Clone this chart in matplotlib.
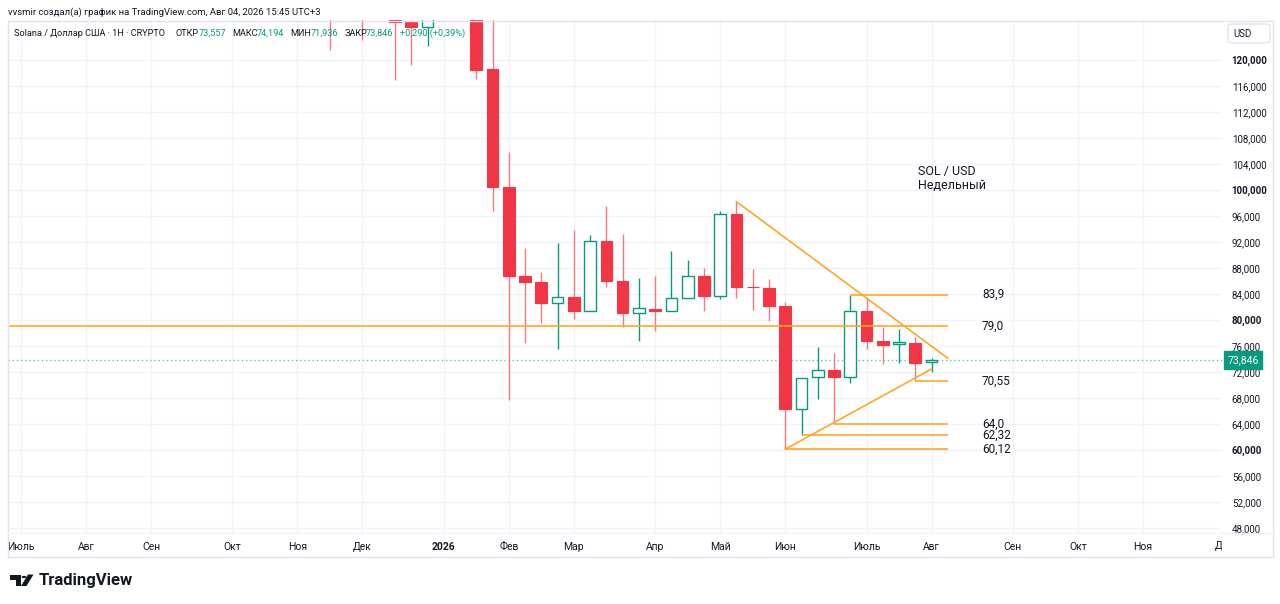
import numpy as np
import pandas as pd
import matplotlib
matplotlib.use("Agg")
import matplotlib.pyplot as plt
from matplotlib.patches import Rectangle, FancyBboxPatch, Polygon, Circle
from matplotlib.transforms import blended_transform_factory, Bbox, TransformedBbox

plt.rcParams['font.family'] = ['Roboto', 'DejaVu Sans']

# --- данные: недельные свечи SOL/USD (первая свеча - неделя 17.11.2025) ---
FIRST_WEEK = "2025-11-17"
OPEN = [134, 128, 131, 127, 130, 125.8, 125.0, 128, 133, 135,
        118.6, 100.46, 86.77, 85.9, 82.6, 83.5, 81.38, 92.2, 86.05, 81.13,
        81.74, 81.38, 83.33, 86.77, 83.74, 96.31, 85.13, 84.97, 82.15, 66.31,
        71.18, 72.26, 71.18, 81.38, 76.72, 76.31, 76.51, 73.557]
HIGH = [137, 133, 134, 132, 133, 126.1, 130, 135, 138, 136,
        127, 105.8, 91.0, 87.4, 91.9, 93.85, 93.03, 97.54, 93.18, 86.41,
        86.77, 90.54, 89.23, 87.95, 96.72, 98.2, 87.8, 86.26, 82.82, 71.13,
        75.9, 74.87, 83.9, 83.44, 78.87, 78.67, 77.33, 74.194]
LOW = [121.5, 126.5, 123.1, 126.5, 116.9, 119.2, 122.2, 126.8, 127.5, 117.0,
       96.8, 67.7, 76.5, 79.6, 75.6, 80.15, 81.38, 85.13, 78.97, 76.72,
       78.36, 81.38, 83.33, 81.38, 83.23, 83.44, 81.49, 79.9, 60.12, 62.32,
       67.8, 64.0, 70.26, 75.54, 73.28, 73.44, 70.55, 71.936]
CLOSE = [128, 131, 127, 130, 125.8, 125.0, 128, 133, 135, 118.5,
         100.46, 86.77, 85.9, 82.6, 83.5, 81.38, 92.2, 86.05, 81.13, 81.8,
         81.38, 83.33, 86.77, 83.74, 96.31, 85.13, 85.0, 82.15, 66.31, 71.13,
         72.26, 71.18, 81.38, 76.77, 76.2, 76.56, 73.44, 73.846]
LAST_PRICE = 73.846

# уровни (горизонтальные линии) и номер свечи, откуда они начинаются
LEVELS = [83.9, 79.0, 70.55, 64.0, 62.32, 60.12]
LEVEL_LABELS = ["83,9", "79,0", "70,55", "64,0", "62,32", "60,12"]
LEVEL_FROM = [32, None, 36, 31, 29, 28]
LEVEL_TO = 38

# трендовые линии треугольника: (свеча, цена)
TREND_DOWN = [(25, 98.2), (38, 74.1)]
TREND_UP = [(28, 60.12), (37, 72.46)]

PRICE_TICKS = list(range(48, 121, 4))
MONTHS_RU = ["Янв", "Фев", "Мар", "Апр", "Май", "Июн",
             "Июль", "Авг", "Сен", "Окт", "Ноя", "Дек"]

UP = "#089981"
DOWN = "#F23645"
DOWN_WICK = "#F7777F"
ORANGE = "#FFA726"
TEXT = "#131722"
GRID = "#F0F3FA"
BORDER = "#E0E3EB"

W, H = 1280, 604
fig = plt.figure(figsize=(12.8, 6.04), dpi=100)
fig.patch.set_facecolor("white")


def fx(x):
    return x / W


def fy(y):
    return 1 - y / H


ax = fig.add_axes([fx(8), fy(533), fx(1222 - 8), (533 - 20) / H])
ax.set_facecolor("white")
for s in ax.spines.values():
    s.set_visible(False)

x0 = pd.Timestamp(FIRST_WEEK)
idx = np.arange(len(OPEN))
o, h, l, c = map(np.array, (OPEN, HIGH, LOW, CLOSE))

xmin, xmax = -19.8, 54.86
ax.set_xlim(xmin, xmax)
ax.set_ylim(47.23, 126.15)

# метки месяцев: первая недельная свеча каждого месяца
weeks = pd.date_range("2025-06-30", "2026-12-28", freq="W-MON")
tick_pos, tick_lab = [], []
prev = None
for d in weeks:
    if prev is not None and d.month != prev:
        pos = (d - x0).days / 7
        tick_pos.append(pos)
        tick_lab.append(str(d.year) if d.month == 1 else MONTHS_RU[d.month - 1])
    prev = d.month

in_pos = [p for p in tick_pos if xmin <= p <= xmax]
in_lab = [t for p, t in zip(tick_pos, tick_lab) if xmin <= p <= xmax]
ax.set_xticks(in_pos)
ax.set_xticklabels(in_lab, fontsize=7.5, color=TEXT)
for t in ax.get_xticklabels():
    if t.get_text().isdigit():
        t.set_fontweight("bold")
ax.tick_params(axis="x", length=0, pad=6.5)

# подрезанная метка справа ("Дек")
clip_box = TransformedBbox(Bbox([[fx(8), 0], [fx(1222), 1]]), fig.transFigure)
trans_x = blended_transform_factory(ax.transData, fig.transFigure)
for p, t in zip(tick_pos, tick_lab):
    if xmax < p < xmax + 3:
        tt = ax.text(p, fy(546), t, transform=trans_x, ha="center", va="center",
                     fontsize=7.5, color=TEXT, clip_on=True)
        tt.set_clip_box(clip_box)

ax.yaxis.tick_right()
ax.set_yticks(PRICE_TICKS)
ax.set_yticklabels([f"{v},000" for v in PRICE_TICKS], fontsize=7, color=TEXT)
for t, v in zip(ax.get_yticklabels(), PRICE_TICKS):
    if v % 20 == 0:
        t.set_fontweight("bold")
ax.tick_params(axis="y", length=0, pad=7)

ax.grid(True, color=GRID, linewidth=1)
ax.set_axisbelow(True)

# свечи
width = 0.72
up = c >= o
body_lo = np.minimum(o, c)
body_hi = np.maximum(o, c)
wick_col = np.where(up, UP, DOWN_WICK)
ax.vlines(idx, l, body_lo, colors=wick_col, linewidth=1, zorder=2)
ax.vlines(idx, body_hi, h, colors=wick_col, linewidth=1, zorder=2)
ax.bar(idx[~up], (body_hi - body_lo)[~up], bottom=body_lo[~up], width=width,
       color=DOWN, edgecolor=DOWN, linewidth=0.8, zorder=3)
ax.bar(idx[up], (body_hi - body_lo)[up], bottom=body_lo[up], width=width,
       color="white", edgecolor=UP, linewidth=1, zorder=3)

# текущая цена
ax.axhline(LAST_PRICE, color=UP, linestyle=(0, (1, 2)), linewidth=1, alpha=0.6, zorder=1)

# уровни и подписи
for lev, lab, start in zip(LEVELS, LEVEL_LABELS, LEVEL_FROM):
    ax.hlines(lev, xmin if start is None else start, LEVEL_TO, color=ORANGE,
              linewidth=1.2, zorder=4)
    ax.text(40.1, lev, lab, fontsize=8.5, color=TEXT, va="center", ha="left", zorder=5)

for line in (TREND_DOWN, TREND_UP):
    xs, ys = zip(*line)
    ax.plot(xs, ys, color=ORANGE, linewidth=1.2, zorder=4)

ax.text(36.15, 102.8, "SOL / USD", fontsize=9, color=TEXT, va="center", ha="left")
ax.text(36.15, 100.7, "Недельный", fontsize=9, color=TEXT, va="center", ha="left")

# метка последней цены на шкале
ax.annotate(f"{LAST_PRICE:.3f}".replace(".", ","), xy=(1, LAST_PRICE),
            xycoords=blended_transform_factory(ax.transAxes, ax.transData),
            xytext=(4, 0), textcoords="offset points", fontsize=7.5, color="white",
            va="center", ha="left",
            bbox=dict(boxstyle="square,pad=0.35", fc=UP, ec=UP))

# рамка
fig.patches.append(Rectangle((fx(7.5), fy(557)), fx(1273 - 7.5), (557 - 20.5) / H,
                             transform=fig.transFigure, fill=False, ec=BORDER, lw=1))
fig.add_artist(plt.Line2D([fx(7.5), fx(1273)], [fy(533), fy(533)], color=GRID, lw=1,
                          transform=fig.transFigure))

# кнопка USD
fig.patches.append(FancyBboxPatch((fx(1228), fy(43)), fx(42), 19 / H,
                                  boxstyle="round,pad=0,rounding_size=0.004",
                                  transform=fig.transFigure, fc="white", ec=BORDER, lw=1))
fig.text(fx(1233), fy(34), "USD", fontsize=7, color=TEXT, va="center", ha="left")

# заголовки
fig.text(fx(7.5), fy(12), "vvsmir создал(а) график на TradingView.com, Авг 04, 2026 15:45 UTC+3",
         fontsize=6.8, color=TEXT, va="center", ha="left")

legend = [(14, "Solana / Доллар США · 1H · CRYPTO", TEXT),
          (175.7, "ОТКР", TEXT), (199, "73,557", UP),
          (232.3, "МАКС", TEXT), (257, "74,194", UP),
          (290.7, "МИН", TEXT), (310.7, "71,936", UP),
          (344.3, "ЗАКР", TEXT), (365.7, "73,846", UP),
          (400, "+0,290 (+0,39%)", UP)]
for x, s, col in legend:
    fig.text(fx(x), fy(33.5), s, fontsize=6.6, color=col, va="center", ha="left", zorder=10)

# логотип TradingView
logo = "#131722"
fig.patches.append(Polygon([(fx(9.5), fy(574.5)), (fx(20.5), fy(574.5)), (fx(20.5), fy(586)),
                            (fx(15.5), fy(586)), (fx(15.5), fy(579.5)), (fx(9.5), fy(579.5))],
                           closed=True, transform=fig.transFigure, fc=logo, ec="none"))
fig.patches.append(Circle((fx(24), fy(577)), 2.4 / W, transform=fig.transFigure,
                          fc=logo, ec="none"))
fig.patches.append(Polygon([(fx(28), fy(574.5)), (fx(33.5), fy(574.5)), (fx(26.5), fy(586)),
                            (fx(21), fy(586))],
                           closed=True, transform=fig.transFigure, fc=logo, ec="none"))
fig.text(fx(38.5), fy(580), "TradingView", fontsize=12, fontweight="bold", color=logo,
         va="center", ha="left")

fig.savefig("out.png", dpi=100, facecolor="white")
